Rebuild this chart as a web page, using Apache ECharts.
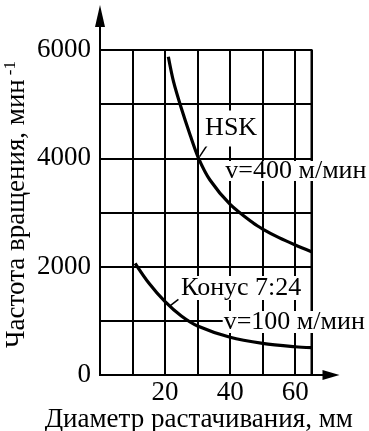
<!DOCTYPE html>
<html>
<head>
<meta charset="utf-8">
<script src="https://cdn.jsdelivr.net/npm/echarts@6/dist/echarts.min.js"></script>
<style>
html,body{margin:0;padding:0;background:#fff;}
#chart{width:369px;height:431px;}
</style>
</head>
<body>
<div id="chart"></div>
<script>
// Data
const diameterHSK = [21, 22.6, 24.9, 27.7, 30.3, 33.8, 40, 47.2, 50, 55, 60, 65];
const rpmHSK      = [5876, 5415, 4942, 4431, 4000, 3600, 3150, 2800, 2695, 2535, 2400, 2276];
const diameterKonus = [10.8, 15, 20, 25, 30, 40, 50, 60, 65];
const rpmKonus      = [2062, 1698, 1353, 1089, 905, 696, 585, 522, 504];
const xTickLabels = [20, 40, 60];
const yTickLabels = [0, 2000, 4000, 6000];
const xTitle = 'Диаметр растачивания, мм';
const yTitle = 'Частота вращения, мин';
const hskLabel = 'HSK';
const hskSpeed = 'v=400 м/мин';
const konusLabel = 'Конус 7:24';
const konusSpeed = 'v=100 м/мин';

const FONT = '"Liberation Serif", "DejaVu Serif", serif';
const chart = echarts.init(document.getElementById('chart'), null, {renderer: 'canvas'});

function pairs(xs, ys) { return xs.map((x, i) => [x, ys[i]]); }
function textLabel(text, coord, lh, pad) {
  return {
    coord: coord, value: text,
    label: {
      show: true, position: 'inside', formatter: text,
      fontFamily: FONT, fontSize: 26, color: '#000',
      backgroundColor: '#fff', lineHeight: lh, padding: pad
    }
  };
}

const option = {
  animation: false,
  backgroundColor: '#fff',
  grid: [
    {left: 100, right: 57.5, top: 50, bottom: 56, show: true, borderColor: '#000', borderWidth: 2,
     backgroundColor: 'transparent', containLabel: false, outerBoundsMode: 'none'},
    {left: 100, right: 38, top: 16, bottom: 56, containLabel: false, outerBoundsMode: 'none'}
  ],
  xAxis: [
    {
      type: 'value', gridIndex: 0, min: 0, max: 65, interval: 10,
      axisLine: {show: false}, axisTick: {show: false},
      splitLine: {show: true, lineStyle: {color: '#000', width: 2}},
      axisLabel: {
        fontFamily: FONT, fontSize: 27, color: '#000', margin: 4,
        formatter: v => xTickLabels.indexOf(v) >= 0 ? String(v) : ''
      },
      name: xTitle, nameLocation: 'middle', nameGap: 31, nameMoveOverlap: false,
      nameTextStyle: {fontFamily: FONT, fontSize: 27, color: '#000', padding: [0, 14, 0, 0]}
    },
    {
      type: 'value', gridIndex: 1, min: 0, max: 1,
      axisLine: {show: true, lineStyle: {color: '#000', width: 2}, symbol: ['none', 'triangle'], symbolSize: [10, 17]},
      axisTick: {show: false}, axisLabel: {show: false}, splitLine: {show: false}
    }
  ],
  yAxis: [
    {
      type: 'value', gridIndex: 0, min: 0, max: 6000, interval: 1000,
      axisLine: {show: false}, axisTick: {show: false},
      splitLine: {show: true, lineStyle: {color: '#000', width: 2}},
      axisLabel: {
        fontFamily: FONT, fontSize: 27, color: '#000', margin: 9,
        formatter: v => yTickLabels.indexOf(v) >= 0 ? String(v) : ''
      },
      name: yTitle + '{sup|-1}', nameLocation: 'middle', nameGap: 69, nameRotate: 90, nameMoveOverlap: false,
      nameTextStyle: {
        fontFamily: FONT, fontSize: 27, color: '#000', padding: [0, 0, 0, 16],
        rich: {sup: {fontFamily: FONT, fontSize: 17, color: '#000', verticalAlign: 'top', padding: [0, 0, 12, 4]}}
      }
    },
    {
      type: 'value', gridIndex: 1, min: 0, max: 1,
      axisLine: {show: true, lineStyle: {color: '#000', width: 2}, symbol: ['none', 'triangle'], symbolSize: [10, 22]},
      axisTick: {show: false}, axisLabel: {show: false}, splitLine: {show: false}
    }
  ],
  series: [
    {
      type: 'line', xAxisIndex: 0, yAxisIndex: 0, name: 'HSK',
      data: pairs(diameterHSK, rpmHSK), smooth: 0.3, showSymbol: false, symbol: 'none',
      lineStyle: {color: '#000', width: 3.2}, z: 5,
      markLine: {
        silent: true, symbol: 'none', label: {show: false},
        lineStyle: {color: '#000', width: 1.5, type: 'solid'},
        data: [[{coord: [34.4, 4375]}, {coord: [30.6, 4030]}]]
      },
      markPoint: {
        symbol: 'rect', symbolSize: 0, silent: true,
        data: [
          textLabel(hskLabel, [40.3, 4550], 26, [5, 3]),
          textLabel(hskSpeed, [60.2, 3766], 20, [0, 1])
        ]
      }
    },
    {
      type: 'line', xAxisIndex: 0, yAxisIndex: 0, name: 'Konus',
      data: pairs(diameterKonus, rpmKonus), smooth: 0.3, showSymbol: false, symbol: 'none',
      lineStyle: {color: '#000', width: 3.2}, z: 5,
      markLine: {
        silent: true, symbol: 'none', label: {show: false},
        lineStyle: {color: '#000', width: 1.5, type: 'solid'},
        data: [[{coord: [24.1, 1397]}, {coord: [21.4, 1270]}]]
      },
      markPoint: {
        symbol: 'rect', symbolSize: 0, silent: true,
        data: [
          textLabel(konusLabel, [43.4, 1606], 24, [0, 1]),
          textLabel(konusSpeed, [59.7, 978], 22, [0, 1])
        ]
      }
    }
  ]
};
chart.setOption(option);
</script>
</body>
</html>
